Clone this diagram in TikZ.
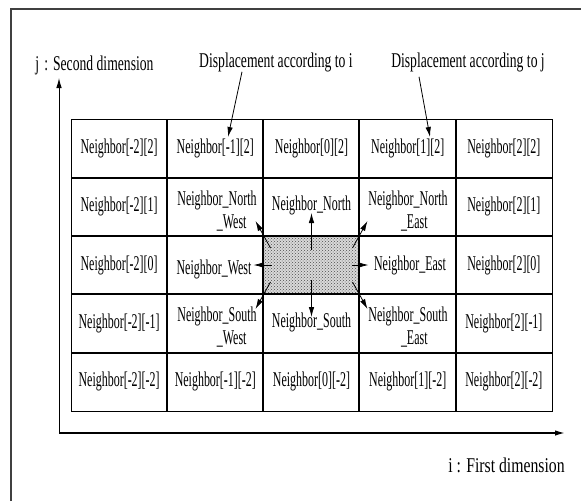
\documentclass[tikz,border=0pt]{standalone}
\usepackage{fontspec}
\setmainfont[FakeStretch=0.57]{Liberation Serif}
\newfontfamily\labelfont[FakeStretch=0.65]{Liberation Serif}
\newfontfamily\widefont[FakeStretch=0.75]{Liberation Serif}
\usetikzlibrary{patterns,arrows.meta}

\tikzset{
  cell/.style={font=\fontsize{21}{23}\selectfont, align=center, inner sep=0pt},
  axislabel/.style={font=\labelfont\fontsize{21}{23}\selectfont, inner sep=0pt},
  arr/.style={-{Latex[length=10pt,width=5.5pt]}, line width=0.8pt}
}

\begin{document}
\begin{tikzpicture}[x=1pt,y=-1pt]
\useasboundingbox (0,0) rectangle (581,501);

% Draw the frame
  \draw[black!75, line width=1.2pt] (11,501) -- (11,9) -- (581,9);


  % Shade the middle cell
  \fill[black!15] (263,236) rectangle (359,294);
  \fill[pattern=crosshatch dots, pattern color=black!70] (263,236) rectangle (359,294);


  % Draw the grid
  \draw[line width=1pt] (71,119) rectangle (552,411);
  \foreach \x in {167,263,359,456}
    \draw[line width=1.2pt] (\x,119) -- (\x,411);
  \foreach \y in {177.5,236,294,352.5}
    \draw[line width=2pt] (71,\y) -- (552,\y);



  % Write the outer cells
  \foreach \i in {-2,...,2}
    \foreach \j in {-2,...,2} {
      \pgfmathtruncatemacro\edge{or(abs(\i)==2,abs(\j)==2)}
      \ifnum\edge=1
        \node[cell] (n\i\j) at ({311.5+96.2*\i},{265-58.4*\j}) {Neighbor[\i][\j]};
      \fi
    }


  % Write the direct neighbors
  \node[cell] (nw) at (217,211) {Neighbor\_North\\\hspace*{1.4em}\_West};
  \node[cell] (north) at (311.5,205) {Neighbor\_North};
  \node[cell] (ne) at (408,211) {Neighbor\_North\\\hspace*{0.6em}\_East};
  \node[cell] (west) at (214,269) {Neighbor\_West};
  \node[cell] (east) at (410,265) {Neighbor\_East};
  \node[cell] (sw) at (217,327) {Neighbor\_South\\\hspace*{1.4em}\_West};
  \node[cell] (south) at (311.5,322) {Neighbor\_South};
  \node[cell] (se) at (408,327) {Neighbor\_South\\\hspace*{0.6em}\_East};


  % Arrows out of the middle cell
  \coordinate (ctr) at (311.5,265);
  \foreach \ax/\ay/\bx/\by in {0/-15/0/-52, 0/15/0/52, -40/0/-58/0, 40/0/57/0,
      -41/-17/-56/-44, 41/-17/56/-44, -41/17/-56/44, 41/17/56/44}
    \draw[arr] ([shift={(\ax,\ay)}]ctr) -- ([shift={(\bx,\by)}]ctr);


  % Draw the axes
  \coordinate (origin) at (59,433);
  \coordinate (jtip) at (59,78);
  \coordinate (itip) at (565,433);
  \draw[arr, line width=0.9pt] (origin) -- (jtip);
  \draw[arr, line width=1.5pt] (origin) -- (itip);

  \node[axislabel] (jlab) at (94.5,65) {j\hspace{5pt}:\hspace{5pt}Second dimension};
  \node[axislabel, font=\widefont\fontsize{21}{23}\selectfont] (ilab) at (506.5,465) {i : First dimension};


  % Displacement labels
  \node[axislabel] (dispi) at (276,62) {Displacement according to i};
  \node[axislabel] (dispj) at (468,62) {Displacement according to j};
  \coordinate (ti) at (228,137);
  \coordinate (tj) at (430,137);
  \draw[arr] ([xshift=-34pt]dispi.south) -- (ti);
  \draw[arr] ([xshift=-49pt,yshift=-5pt]dispj.south) -- (tj);

  \end{tikzpicture}
\end{document}
